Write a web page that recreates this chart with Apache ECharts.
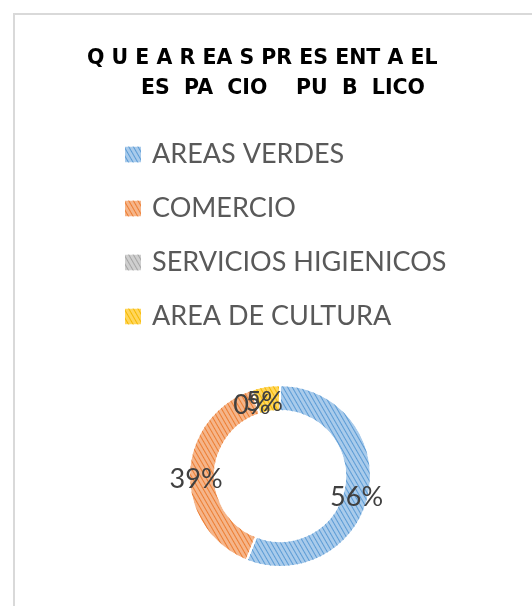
<!DOCTYPE html>
<html>
<head>
<meta charset="utf-8">
<script src="https://cdn.jsdelivr.net/npm/echarts@6/dist/echarts.min.js"></script>
<style>
  html, body { margin: 0; padding: 0; background: #fff; }
  #chart { width: 532px; height: 606px; }
</style>
</head>
<body>
<div id="chart"></div>
<script>
// data
const categories = ['AREAS VERDES', 'COMERCIO', 'SERVICIOS HIGIENICOS', 'AREA DE CULTURA']
const values = [56, 39, 0, 5]
const titleLines = ['Q U E A R EA S PR ES ENT A EL', 'ES  PA  CIO    PU  B  LICO']

const baseColors = ['#a9cbeb', '#f5b58a', '#cfcfcf', '#ffd65c']
const hatchColors = ['#5b9bd5', '#ed7d31', '#a5a5a5', '#f5b800']

const chart = echarts.init(document.getElementById('chart'))

const pieData = categories.map((name, i) => ({
  name: name,
  value: values[i],
  itemStyle: {
    color: baseColors[i],
    decal: {
      symbol: 'rect',
      color: hatchColors[i],
      dashArrayX: [1, 0],
      dashArrayY: [1, 3],
      rotation: Math.PI / 3
    }
  }
}))

const titleFont = { fontFamily: 'DejaVu Sans', fontWeight: 'bold', fontSize: 20.5, color: '#000' }

const option = {
  backgroundColor: '#fff',
  animation: false,
  title: [{
    text: titleLines[0],
    left: 82,
    top: 43,
    textStyle: titleFont
  }, {
    text: titleLines[1],
    left: 136,
    top: 73,
    textStyle: titleFont
  }],
  legend: {
    orient: 'vertical',
    left: 118,
    top: 136,
    itemWidth: 18,
    itemHeight: 18,
    itemGap: 27,
    icon: 'rect',
    textStyle: { fontFamily: 'Lato', fontSize: 27, lineHeight: 27, color: '#595959', padding: [0, 0, 0, 5] },
    data: categories
  },
  graphic: [{
    type: 'rect',
    shape: { x: 14, y: 14, width: 560, height: 620 },
    style: { fill: 'none', stroke: '#d9d9d9', lineWidth: 2 },
    silent: true
  }],
  series: [{
    type: 'pie',
    center: [280, 476],
    radius: [65, 91],
    startAngle: 90,
    clockwise: true,
    avoidLabelOverlap: false,
    labelLayout: { hideOverlap: false },
    itemStyle: { borderColor: '#fff', borderWidth: 2 },
    label: {
      show: true,
      position: 'inside',
      formatter: '{c}%',
      fontFamily: 'Lato',
      fontSize: 27,
      color: '#404040',
      textBorderWidth: 0,
      offset: [-3, 6]
    },
    labelLine: { show: false },
    emphasis: { disabled: true },
    data: pieData
  }]
}

chart.setOption(option)
</script>
</body>
</html>
